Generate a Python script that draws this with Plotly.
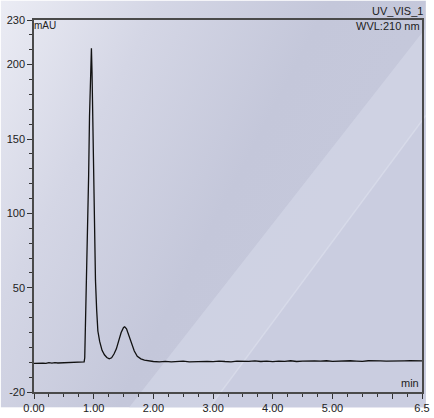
import base64
import plotly.graph_objects as go

# ---- data ----
time_min = [0.00, 0.05, 0.10, 0.15, 0.20, 0.25, 0.30, 0.35, 0.40, 0.45, 0.50, 0.55, 0.60, 0.65, 0.70, 0.75, 0.80, 0.84,
            0.850, 0.857, 0.865, 0.875, 0.885, 0.893, 0.900, 0.906, 0.915, 0.930, 0.945, 0.955, 0.962, 0.972, 0.985,
            1.000, 1.015, 1.030, 1.050, 1.070, 1.100, 1.140, 1.180, 1.220, 1.260, 1.300, 1.340, 1.380, 1.420,
            1.460, 1.500, 1.520, 1.550, 1.590, 1.630, 1.680, 1.730, 1.790, 1.850, 1.930,
            2.00, 2.10, 2.20, 2.30, 2.40, 2.50, 2.60, 2.70, 2.80, 2.90, 3.00, 3.10, 3.20, 3.30, 3.40, 3.50,
            3.60, 3.70, 3.80, 3.90, 4.00, 4.10, 4.20, 4.30, 4.40, 4.50, 4.60, 4.70, 4.80, 4.90, 5.00, 5.10,
            5.20, 5.30, 5.40, 5.50, 5.60, 5.70, 5.80, 5.90, 6.00, 6.10, 6.20, 6.30, 6.40, 6.50]
signal_mau = [-0.8, -0.9, -0.8, -0.6, -0.7, -0.3, -0.6, -0.2, -0.5, -0.4, -0.3, -0.5, -0.2, -0.3, -0.1, -0.3, 0.0, 0.2,
              3.0, 15.0, 35.0, 60.0, 84.0, 96.0, 99.0, 101.0, 125.0, 165.0, 197.0, 209.0, 211.0, 195.0, 160.0,
              120.0, 85.0, 55.0, 35.0, 21.0, 14.0, 8.0, 5.0, 3.2, 2.3, 3.0, 5.5, 9.0, 14.5,
              20.0, 23.3, 23.8, 22.5, 18.0, 12.5, 7.5, 4.0, 2.3, 1.4, 0.8,
              0.5, 0.3, 0.6, 0.2, 0.4, 0.7, 0.3, 0.5, 0.2, 0.6, 0.4, 0.8, 0.5, 0.3, 0.7, 0.4,
              0.6, 0.9, 0.5, 0.7, 0.4, 0.8, 0.6, 1.0, 0.5, 0.8, 0.6, 0.9, 0.7, 1.0, 0.6, 0.9,
              0.7, 1.0, 0.8, 0.6, 1.0, 0.7, 0.9, 0.8, 1.0, 0.7, 0.9, 1.0, 0.8, 0.9]

x_tick_vals = [0, 1, 2, 3, 4, 5, 6, 6.5]
x_tick_text = ["0.00", "1.00", "2.00", "3.00", "4.00", "5.00", "", "6.5"]
x_minor_vals = [i * 0.25 for i in range(27) if (i * 0.25) % 1 != 0]
y_tick_vals = [-20, 50, 100, 150, 200, 230]
y_tick_text = ["-20", "50", "100", "150", "200", "230"]
y_minor_vals = [v for v in range(-10, 230, 10) if v not in (50, 100, 150, 200)]

W, H = 434, 418
ML, MR, MT, MB = 34, 4, 20, 16
PW, PH = W - ML - MR, H - MT - MB

svg = f'''<svg xmlns="http://www.w3.org/2000/svg" width="{W}" height="{H}" viewBox="0 0 {W} {H}">
<defs>
<linearGradient id="g" x1="0" y1="0" x2="1" y2="0.5">
<stop offset="0" stop-color="#ebecf4"/>
<stop offset="0.3" stop-color="#d4d6e5"/>
<stop offset="0.62" stop-color="#c4c7da"/>
<stop offset="1" stop-color="#c6c9dc"/>
</linearGradient>
</defs>
<rect x="0" y="0" width="{W}" height="{H}" fill="url(#g)"/>
<polygon points="213,418 434,118 434,418" fill="#cacde0" opacity="0.9"/>
<polygon points="131,418 434,28 434,118 213,418" fill="#d0d3e4" opacity="0.85"/>
<line x1="213" y1="418" x2="434" y2="118" stroke="#d9dcea" stroke-width="1.5" opacity="0.9"/>
</svg>'''
src = "data:image/svg+xml;base64," + base64.b64encode(svg.encode()).decode()

fig = go.Figure()
fig.add_trace(go.Scatter(x=time_min, y=signal_mau, mode="lines",
                         line=dict(color="#111111", width=1.3), hoverinfo="skip",
                         showlegend=False))

font = dict(family="Arial, Liberation Sans, sans-serif", size=11, color="#222222")

fig.update_layout(
    width=W, height=H,
    margin=dict(l=ML, r=MR, t=MT, b=MB, pad=0),
    paper_bgcolor="rgba(0,0,0,0)", plot_bgcolor="rgba(0,0,0,0)",
    font=font,
    images=[dict(source=src, xref="paper", yref="paper",
                 x=-ML / PW, y=1 + MT / PH, sizex=W / PW, sizey=H / PH,
                 xanchor="left", yanchor="top", sizing="stretch", layer="below")],
    xaxis=dict(range=[0, 6.5], tickvals=x_tick_vals, ticktext=x_tick_text,
               showgrid=False, zeroline=False, showline=True, mirror=True,
               linecolor="#4a4a4a", linewidth=1.5, ticks="outside", ticklen=5,
               tickwidth=1, tickcolor="#333333", tickfont=font,
               ticklabeloverflow="allow",
               minor=dict(tickvals=x_minor_vals, ticks="outside", ticklen=3,
                          tickwidth=1, tickcolor="#333333", showgrid=False)),
    yaxis=dict(range=[-20, 230], tickvals=y_tick_vals, ticktext=y_tick_text,
               showgrid=False, zeroline=False, showline=True, mirror=True,
               linecolor="#4a4a4a", linewidth=1.5, ticks="outside", ticklen=5,
               tickwidth=1, tickcolor="#333333", tickfont=font,
               ticklabeloverflow="allow",
               minor=dict(tickvals=y_minor_vals, ticks="outside", ticklen=3,
                          tickwidth=1, tickcolor="#333333", showgrid=False)),
    annotations=[
        dict(text="mAU", xref="paper", yref="paper", x=0.0, y=1.0,
             xanchor="left", yanchor="top", showarrow=False, xshift=-2, yshift=2,
             font=dict(family=font["family"], size=10, color="#222222")),
        dict(text="UV_VIS_1", xref="paper", yref="paper", x=1 + 3 / PW, y=1.004,
             xanchor="right", yanchor="bottom", showarrow=False, font=font),
        dict(text="WVL:210 nm", xref="paper", yref="paper", x=1.0, y=1.0,
             xanchor="right", yanchor="top", showarrow=False, yshift=2, font=font),
        dict(text="min", xref="paper", yref="paper", x=0.998, y=0.004,
             xanchor="right", yanchor="bottom", showarrow=False, font=font),
    ],
)

fig.write_html("out.html")
